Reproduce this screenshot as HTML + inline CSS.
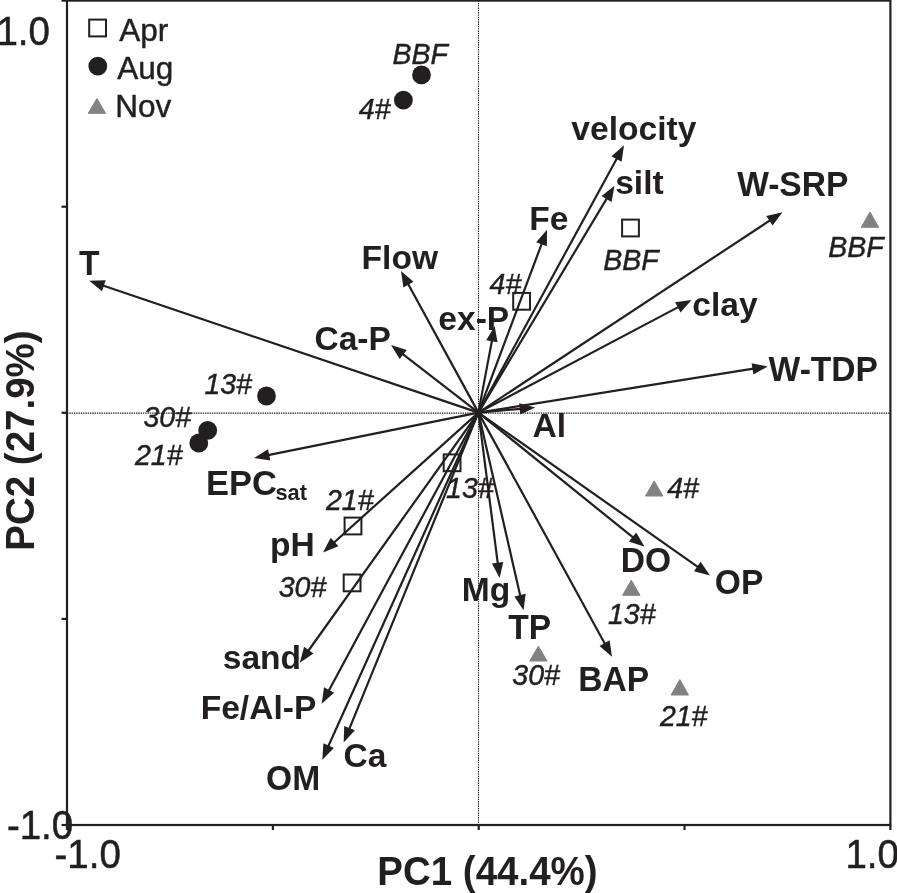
<!DOCTYPE html>
<html lang="en"><head><meta charset="utf-8"><title>PCA biplot</title>
<style>
html,body{margin:0;padding:0;background:#fff;}
body{width:897px;height:893px;overflow:hidden;}
svg{display:block;}
text{font-family:"Liberation Sans",Arial,Helvetica,sans-serif;fill:#231f20;}
.b{font-weight:bold;font-size:33.6px;}
.s{font-weight:bold;font-size:21.8px;}
.e{font-weight:bold;font-size:34.5px;}
.i{font-style:italic;font-size:28.5px;stroke:#231f20;stroke-width:0.45px;}
.a{font-size:38.5px;stroke:#231f20;stroke-width:0.5px;}
.l{font-size:31.5px;stroke:#231f20;stroke-width:0.45px;}
.p{font-weight:bold;font-size:38.5px;}
</style></head><body>
<svg width="897" height="893" viewBox="0 0 897 893">
<rect width="897" height="893" fill="#fff"/>

<g stroke="#231f20" stroke-width="1.1" stroke-dasharray="1.4 0.9" fill="none">
<line x1="67.0" y1="413.1" x2="890.4" y2="413.1"/><line x1="478.5" y1="0.6" x2="478.5" y2="825.0"/></g>
<g stroke="#231f20" stroke-width="2.2" fill="none">
<rect x="67.0" y="0.6" width="823.4" height="824.4"/>
<line x1="61.5" y1="0.6" x2="67.0" y2="0.6"/>
<line x1="67.0" y1="825.0" x2="67.0" y2="830.0"/>
<line x1="61.5" y1="206.7" x2="67.0" y2="206.7"/>
<line x1="272.9" y1="825.0" x2="272.9" y2="830.0"/>
<line x1="61.5" y1="412.8" x2="67.0" y2="412.8"/>
<line x1="478.7" y1="825.0" x2="478.7" y2="830.0"/>
<line x1="61.5" y1="618.9" x2="67.0" y2="618.9"/>
<line x1="684.5" y1="825.0" x2="684.5" y2="830.0"/>
<line x1="61.5" y1="825.0" x2="67.0" y2="825.0"/>
<line x1="890.4" y1="825.0" x2="890.4" y2="830.0"/>
</g>
<g stroke="#231f20" stroke-width="2.2" fill="none" stroke-linecap="butt">
<line x1="478.4" y1="412.6" x2="102.9" y2="285.5"/>
<line x1="478.4" y1="412.6" x2="408.0" y2="283.7"/>
<line x1="478.4" y1="412.6" x2="402.5" y2="353.9"/>
<line x1="478.4" y1="412.6" x2="492.0" y2="340.2"/>
<line x1="478.4" y1="412.6" x2="541.9" y2="243.3"/>
<line x1="478.4" y1="412.6" x2="617.1" y2="158.0"/>
<line x1="478.4" y1="412.6" x2="607.0" y2="198.1"/>
<line x1="478.4" y1="412.6" x2="770.3" y2="220.2"/>
<line x1="478.4" y1="412.6" x2="678.7" y2="306.9"/>
<line x1="478.4" y1="412.6" x2="753.5" y2="368.7"/>
<line x1="478.4" y1="412.6" x2="520.8" y2="408.8"/>
<line x1="478.4" y1="412.6" x2="633.3" y2="537.7"/>
<line x1="478.4" y1="412.6" x2="698.1" y2="567.1"/>
<line x1="478.4" y1="412.6" x2="605.0" y2="644.0"/>
<line x1="478.4" y1="412.6" x2="520.3" y2="596.1"/>
<line x1="478.4" y1="412.6" x2="497.8" y2="563.6"/>
<line x1="478.4" y1="412.6" x2="349.2" y2="729.1"/>
<line x1="478.4" y1="412.6" x2="328.2" y2="746.5"/>
<line x1="478.4" y1="412.6" x2="328.6" y2="690.9"/>
<line x1="478.4" y1="412.6" x2="308.2" y2="651.0"/>
<line x1="478.4" y1="412.6" x2="333.8" y2="542.7"/>
<line x1="478.4" y1="412.6" x2="268.2" y2="455.1"/>
</g>
<g fill="#231f20" stroke="none"><polygon points="89.2,280.8 105.7,280.3 102.0,291.2"/><polygon points="401.0,271.0 413.5,281.8 403.4,287.4"/><polygon points="391.0,345.0 406.8,349.9 399.7,359.0"/><polygon points="494.7,326.0 497.5,342.3 486.2,340.2"/><polygon points="547.0,229.7 546.9,246.2 536.2,242.2"/><polygon points="624.0,145.3 621.6,161.7 611.5,156.2"/><polygon points="614.5,185.7 611.5,201.9 601.6,196.0"/><polygon points="782.4,212.2 772.6,225.5 766.3,215.9"/><polygon points="691.5,300.1 680.5,312.4 675.1,302.3"/><polygon points="767.8,366.4 753.4,374.5 751.6,363.2"/><polygon points="535.2,407.5 520.3,414.6 519.2,403.2"/><polygon points="644.6,546.8 628.9,541.5 636.2,532.6"/><polygon points="710.0,575.4 694.0,571.2 700.6,561.8"/><polygon points="612.0,656.7 599.5,645.9 609.6,640.3"/><polygon points="523.5,610.2 514.4,596.4 525.7,593.8"/><polygon points="499.6,578.0 491.9,563.4 503.3,561.9"/><polygon points="343.7,742.5 344.2,726.0 354.9,730.3"/><polygon points="322.3,759.7 323.4,743.2 333.9,747.9"/><polygon points="321.7,703.7 324.0,687.3 334.1,692.8"/><polygon points="299.8,662.8 304.1,646.8 313.5,653.5"/><polygon points="323.0,552.4 330.7,537.8 338.4,546.3"/><polygon points="254.0,458.0 268.1,449.3 270.3,460.6"/></g>
<g stroke="#231f20" stroke-width="2" fill="none">
<rect x="622.1" y="219.6" width="16.8" height="16.8"/>
<rect x="513.2" y="292.9" width="16.8" height="16.8"/>
<rect x="443.7" y="454.4" width="16.8" height="16.8"/>
<rect x="344.6" y="517.6" width="16.8" height="16.8"/>
<rect x="343.7" y="574.5" width="16.8" height="16.8"/>
<rect x="89.2" y="19.6" width="16.8" height="16.8"/>
</g>
<g fill="#231f20">
<circle cx="421.5" cy="74.9" r="9.4"/>
<circle cx="403.4" cy="100.2" r="9.4"/>
<circle cx="266.5" cy="396" r="9.4"/>
<circle cx="207.7" cy="430.4" r="9.4"/>
<circle cx="198.8" cy="443" r="9.4"/>
<circle cx="97.8" cy="66.1" r="9.4"/>
</g>
<g fill="#808285" stroke="#808285" stroke-width="1" stroke-linejoin="round">
<polygon points="870.0,211.9 878.7,227.3 861.3,227.3"/>
<polygon points="654.2,480.9 662.9,496.0 645.5,496.0"/>
<polygon points="631.3,580.2 640.0,595.3 622.6,595.3"/>
<polygon points="538.4,646.2 547.1,661.0 529.7,661.0"/>
<polygon points="679.8,679.6 688.5,695.0 671.1,695.0"/>
<polygon points="96.9,98.6 105.6,113.3 88.2,113.3"/>
</g>
<text id="b_T" class="b" transform="translate(79.05,275.10) scale(1,1.04)">T</text>
<text id="b_Flow" class="b" x="361.60" y="269.00">Flow</text>
<text id="b_Ca-P" class="b" x="314.40" y="349.80">Ca-P</text>
<text id="b_ex-P" class="b" x="438.30" y="330.10">ex-P</text>
<text id="b_Fe" class="b" x="529.15" y="229.50">Fe</text>
<text id="b_velocity" class="b" x="571.35" y="139.80">velocity</text>
<text id="b_silt" class="b" x="615.15" y="194.00">silt</text>
<text id="b_W-SRP" class="b" transform="translate(737.15,195.50) scale(1,1.04)">W-SRP</text>
<text id="b_clay" class="b" x="692.30" y="315.80">clay</text>
<text id="b_W-TDP" class="b" transform="translate(768.60,381.20) scale(1,1.04)">W-TDP</text>
<text id="b_Al" class="b" x="532.55" y="437.10">Al</text>
<text id="b_DO" class="b" transform="translate(620.70,571.80) scale(1,1.04)">DO</text>
<text id="b_OP" class="b" transform="translate(714.85,594.10) scale(1,1.04)">OP</text>
<text id="b_BAP" class="b" transform="translate(578.25,691.00) scale(1,1.04)">BAP</text>
<text id="b_TP" class="b" transform="translate(508.15,639.30) scale(1,1.04)">TP</text>
<text id="b_Mg" class="b" x="461.85" y="601.20">Mg</text>
<text id="b_Ca" class="b" x="343.45" y="766.60">Ca</text>
<text id="b_OM" class="b" transform="translate(266.00,790.40) scale(1,1.04)">OM</text>
<text id="b_Fe/Al-P" class="b" x="200.65" y="719.00">Fe/Al-P</text>
<text id="b_sand" class="b" x="222.75" y="669.00">sand</text>
<text id="b_pH" class="b" x="269.95" y="555.60">pH</text>
<text id="b_EPC" class="e" transform="translate(206.10,495.20) scale(1,1.04)">EPC</text>
<text id="b_sat" class="s" x="275.40" y="500.00">sat</text>
<text id="i_BBF_aug" class="i" transform="translate(392.40,64.00) scale(1,1.04)">BBF</text>
<text id="i_4_aug" class="i" transform="translate(358.80,118.70) scale(1,1.04)">4#</text>
<text id="i_BBF_apr" class="i" transform="translate(603.35,269.60) scale(1,1.04)">BBF</text>
<text id="i_4_apr" class="i" transform="translate(489.55,293.70) scale(1,1.04)">4#</text>
<text id="i_BBF_nov" class="i" transform="translate(828.15,256.80) scale(1,1.04)">BBF</text>
<text id="i_13_aug" class="i" transform="translate(204.40,394.40) scale(1,1.04)">13#</text>
<text id="i_30_aug" class="i" transform="translate(143.50,426.70) scale(1,1.04)">30#</text>
<text id="i_21_aug" class="i" transform="translate(134.95,464.50) scale(1,1.04)">21#</text>
<text id="i_21_apr" class="i" transform="translate(326.00,510.10) scale(1,1.04)">21#</text>
<text id="i_30_apr" class="i" transform="translate(278.70,596.50) scale(1,1.04)">30#</text>
<text id="i_13_apr" class="i" transform="translate(446.10,498.20) scale(1,1.04)">13#</text>
<text id="i_4_nov" class="i" transform="translate(667.20,498.00) scale(1,1.04)">4#</text>
<text id="i_13_nov" class="i" transform="translate(608.00,623.50) scale(1,1.04)">13#</text>
<text id="i_30_nov" class="i" transform="translate(512.35,684.70) scale(1,1.04)">30#</text>
<text id="i_21_nov" class="i" transform="translate(659.90,726.20) scale(1,1.04)">21#</text>
<text id="ax_y1" class="a" transform="translate(-3.55,44.50) scale(1,1.04)">1.0</text>
<text id="ax_y0" class="a" transform="translate(6.88,839.10) scale(1,1.04)">-1.0</text>
<text id="ax_x0" class="a" transform="translate(54.55,868.00) scale(1,1.04)">-1.0</text>
<text id="ax_x1" class="a" transform="translate(845.40,867.80) scale(1,1.04)">1.0</text>
<text id="lg_apr" class="l" x="119.25" y="41.00">Apr</text>
<text id="lg_aug" class="l" x="117.30" y="78.90">Aug</text>
<text id="lg_nov" class="l" x="115.30" y="117.20">Nov</text>
<text id="pc1" class="p" transform="translate(377.25,885.00) scale(1,1.04)">PC1 (44.4%)</text>
<text id="pc2" class="p" transform="translate(33.8,550.7) rotate(-90) scale(1,1.04)">PC2 (27.9%)</text>
</svg></body></html>
